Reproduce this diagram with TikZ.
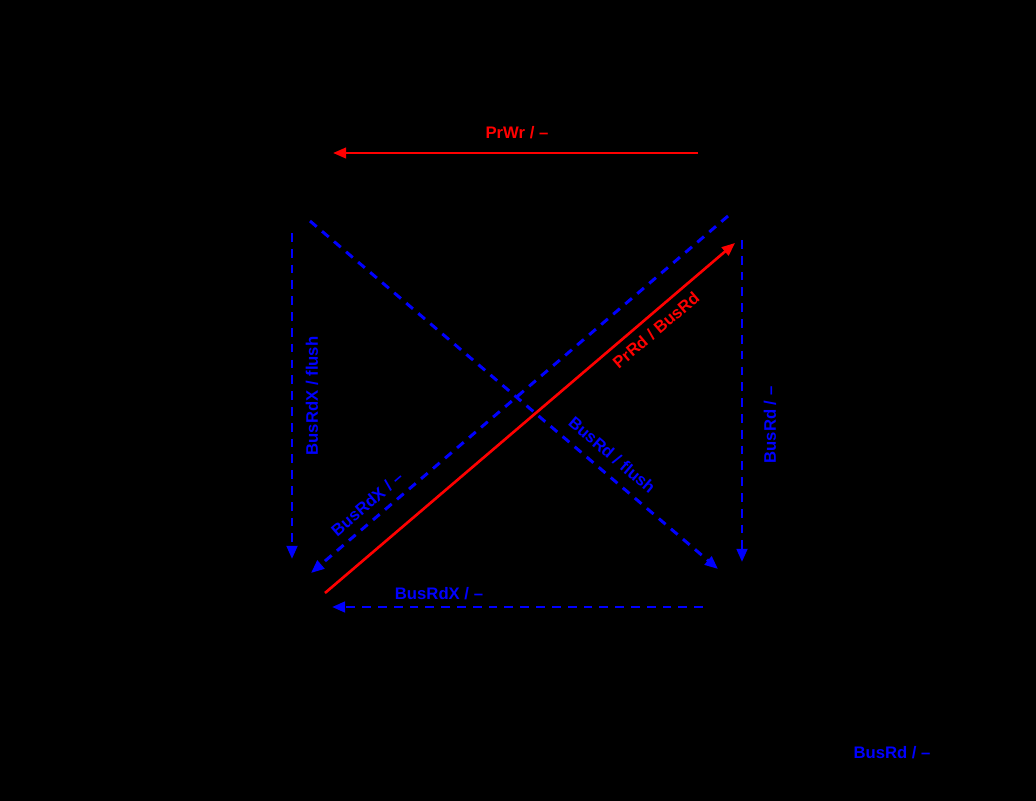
\documentclass[tikz,border=0pt]{standalone}
\usepackage{fontspec}
\setmainfont{Liberation Sans}
\usetikzlibrary{arrows.meta}

\begin{document}
\begin{tikzpicture}[
          x=0.02cm, y=-0.02cm,
          lab/.style={font=\bfseries\fontsize{9.5}{11}\selectfont, inner sep=0pt},
          buslab/.style={lab, text=blue},
          prlab/.style={lab, text=red},
          busarr/.style={-{Triangle[length=7.5pt,width=6pt]}, blue, line width=1.7pt,
                         dash pattern=on 5pt off 4pt},
          prarr/.style={-{Triangle[length=7.5pt,width=6pt]}, red, line width=1.5pt}
        ]
        % Background and page size (pixel grid of the reference).
        \fill[black] (0,0) rectangle (1036,801);

        % End points of the transitions.
        \coordinate (wrS) at (698,153);
        \coordinate (wrE) at (333,153);
        \coordinate (fa)  at (310,221);
        \coordinate (fb)  at (718,569);
        \coordinate (xa)  at (728,216);
        \coordinate (xb)  at (311,573);
        \coordinate (ra)  at (325,593);
        \coordinate (rb)  at (735,243);
        \coordinate (la)  at (292,233);
        \coordinate (lb)  at (292,559);
        \coordinate (va)  at (742,240);
        \coordinate (vb)  at (742,562);
        \coordinate (ba)  at (703,607);
        \coordinate (bb)  at (332,607);

        % Transitions.
        \draw[prarr]  (wrS) -- (wrE);
        \draw[busarr] (fa) -- (fb);
        \draw[busarr] (xa) -- (xb);
        \draw[prarr]  (ra) -- (rb);
        \draw[busarr] (la) -- (lb);
        \draw[busarr] (va) -- (vb);
        \draw[busarr] (ba) -- (bb);

        % Labels.
        \node[prlab] (lwr) at (517,133) {PrWr / --};
        \node[prlab, rotate=40.5] (lrd) at (656,330) {PrRd / BusRd};
        \node[buslab, rotate=-40.5] (lfl) at (612,455) {BusRd / flush};
        \node[buslab, rotate=40.5] (lxd) at (367,504) {BusRdX / --};
        \node[buslab, rotate=90] (lxf) at (312,396) {BusRdX / flush};
        \node[buslab, rotate=90] (lvr) at (770,425) {BusRd / --};
        \node[buslab] (lbt) at (439,594) {BusRdX / --};
        \node[buslab] (lsf) at (892,753) {BusRd / --};
      \end{tikzpicture}
\end{document}
